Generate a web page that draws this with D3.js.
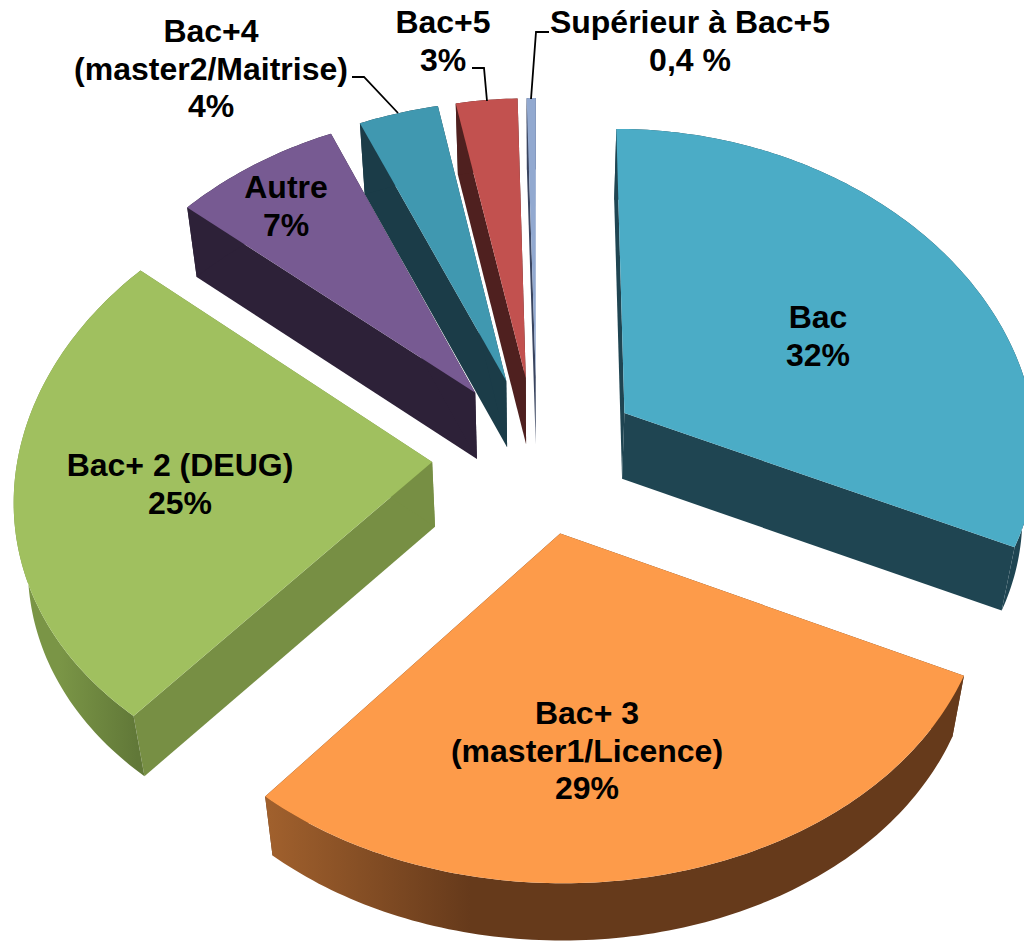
<!DOCTYPE html>
<html><head><meta charset="utf-8">
<script src="https://cdn.jsdelivr.net/npm/d3@7"></script>
<style>html,body{margin:0;padding:0;background:#fff}svg{display:block}
text{font-family:"Liberation Sans",Arial,sans-serif;font-weight:700;font-size:32px;fill:#000;text-anchor:middle}</style>
</head><body><svg id="c" width="1024" height="945"></svg>
<script>
const categories = ["Bac","Bac+ 3 (master1/Licence)","Bac+ 2 (DEUG)","Autre","Bac+4 (master2/Maitrise)","Bac+5","Supérieur à Bac+5"];
const values = [32,29.1,25,7.3,3.5,2.7,0.4];
const valueLabels = ["32%","29%","25%","7%","4%","3%","0,4 %"];
const labelLines = [["Bac"],["Bac+ 3","(master1/Licence)"],["Bac+ 2 (DEUG)"],["Autre"],["Bac+4","(master2/Maitrise)"],["Bac+5"],["Supérieur à Bac+5"]];
const topColors = ["#4bacc6","#fd9b4a","#a0c05f","#775a92","#4098b0","#c2514f","#92a9d0"];
const wallColors = ["#1f4552","#663a1b","#778f44","#2d2138","#1b3c48","#4f201f","#3a4560"];
const rimGradients = [["#1f4552","#1f4552"],["#a0602d","#663a1b"],["#7a9546","#617838"],["#2d2138","#2d2138"],["#1b3c48","#1b3c48"],["#4f201f","#4f201f"],["#3a4560","#3a4560"]];
const labelAnchors = [[818,328],[587,724],[180,476],[286,198],[211,42],[443,33],[690,33]];
const leaders = [[[352,77],[364,77],[398,113]],[[472,68],[484,68],[487,101]],[[549,32],[536,32],[531,99]]];

// 3-D pie geometry
const cx=537, cy=455, R=414, explode=105, tilt=0.752, perspY=0.00018, perspX=0.00025, depth=65, shrinkX=0.973, shrinkY=0.982;
function project(X,Y,bottom){
  let sx=cx+X/(1+perspX*Y), sy=cy-tilt*Y/(1+perspY*Y);
  if(bottom){ sx=cx+(sx-cx)*shrinkX; sy=cy+(sy-cy)*shrinkY+depth; }
  return [sx,sy];
}
const pie=d3.pie().sort(null).value(d=>d)(values);
const svg=d3.select("#c"), defs=svg.append("defs");
const line=d3.line();
const rimAngle=d3.scaleLinear();
pie.forEach((p,i)=>{
  const mid=(p.startAngle+p.endAngle)/2;
  const ax=explode*Math.sin(mid), ay=explode*Math.cos(mid);
  const n=Math.max(3,Math.ceil((p.endAngle-p.startAngle)*60));
  rimAngle.domain([0,n]).range([p.startAngle,p.endAngle]);
  const rim=d3.range(n+1).map(k=>{const t=rimAngle(k);return [ax+R*Math.sin(t),ay+R*Math.cos(t)];});
  p.apexTop=project(ax,ay,false); p.apexBot=project(ax,ay,true);
  p.rimTop=rim.map(q=>project(q[0],q[1],false)); p.rimBot=rim.map(q=>project(q[0],q[1],true));
  p.i=i;
});
const gx=[null,[270,470],[60,137],null,null,null,null];
pie.forEach(p=>{
  if(!gx[p.i])return;
  const g=defs.append("linearGradient").attr("id","rg"+p.i).attr("gradientUnits","userSpaceOnUse")
    .attr("x1",gx[p.i][0]).attr("x2",gx[p.i][1]).attr("y1",0).attr("y2",0);
  g.append("stop").attr("offset",0).attr("stop-color",rimGradients[p.i][0]);
  g.append("stop").attr("offset",1).attr("stop-color",rimGradients[p.i][1]);
});
// painter's order: back slices first
const order=pie.slice().sort((a,b)=>a.apexTop[1]-b.apexTop[1]);
order.forEach(p=>{
  const g=svg.append("g").attr("class","slice");
  const fillW=wallColors[p.i];
  const rimFill=gx[p.i]?`url(#rg${p.i})`:fillW;
  const last=p.rimTop.length-1;
  // radial walls
  g.append("path").attr("d",line([p.apexTop,p.rimTop[0],p.rimBot[0],p.apexBot])+"Z").attr("fill",fillW);
  g.append("path").attr("d",line([p.apexTop,p.rimTop[last],p.rimBot[last],p.apexBot])+"Z").attr("fill",fillW);
  // outer rim wall
  g.append("path").attr("d",line(p.rimTop.concat(p.rimBot.slice().reverse()))+"Z").attr("fill",rimFill);
  // top face
  g.append("path").attr("d",line([p.apexTop].concat(p.rimTop))+"Z").attr("fill",topColors[p.i]);
});
// leader lines
svg.append("g").selectAll("path").data(leaders).join("path")
  .attr("d",d=>line(d)).attr("fill","none").attr("stroke","#000").attr("stroke-width",1.8);
// labels
const lh=37.5;
categories.forEach((c,i)=>{
  const lines=labelLines[i].concat([valueLabels[i]]);
  const t=svg.append("text").attr("data-category",c);
  lines.forEach((s,k)=>t.append("tspan").attr("x",labelAnchors[i][0]).attr("y",labelAnchors[i][1]+k*lh).text(s));
});
</script></body></html>
